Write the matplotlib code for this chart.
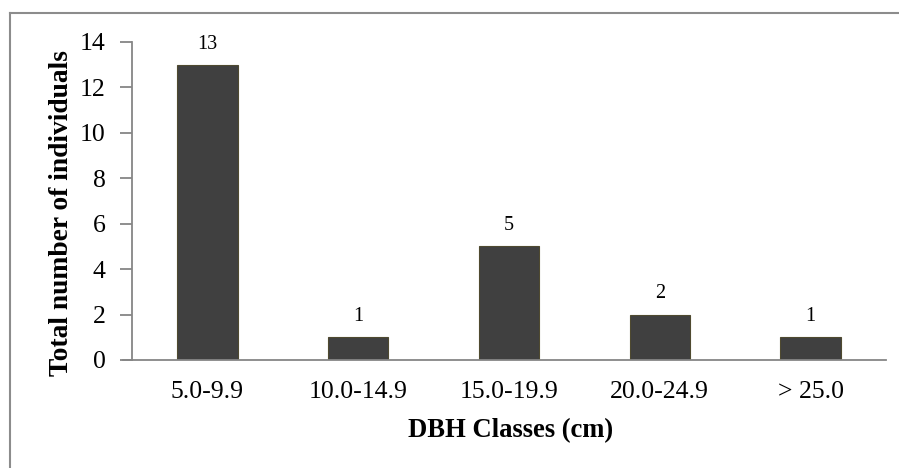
import numpy as np
import matplotlib; matplotlib.use('Agg'); import matplotlib.pyplot as plt
from matplotlib.lines import Line2D

# DBH class distribution
classes = ['5.0-9.9', '10.0-14.9', '15.0-19.9', '20.0-24.9', '> 25.0']
counts = [13, 1, 5, 2, 1]
yticks = [0, 2, 4, 6, 8, 10, 12, 14]

plt.rcParams['font.family'] = ['Liberation Serif', 'DejaVu Serif']
AX_COL = '#868686'

fig = plt.figure(figsize=(8.99, 4.68), dpi=100)
ax = fig.add_axes([0.1468, 0.2308, 0.8387, 0.6795])

x = np.arange(len(classes))
ax.bar(x, counts, width=0.40, color='#404040', edgecolor='#4f4a30', linewidth=0.8)
for xi, v in zip(x, counts):
    ax.annotate(str(v), (xi, v), xytext=(0, 8), textcoords='offset points',
                ha='center', va='bottom', fontsize=14.5)

ax.set_xlim(-0.5, len(classes) - 0.5)
ax.set_ylim(0, 14)
ax.set_yticks(yticks)
ax.set_xticks(x)
ax.set_xticklabels(classes, fontsize=18.5)
ax.tick_params(axis='y', labelsize=18.5, length=9, width=1.3, color=AX_COL, pad=10)
ax.tick_params(axis='x', length=0, pad=15)

for s in ['top', 'right']:
    ax.spines[s].set_visible(False)
for s in ['left', 'bottom']:
    ax.spines[s].set_color(AX_COL)
    ax.spines[s].set_linewidth(1.3)
# extend baseline to the left like the 0 tick
ax.plot([-0.56, -0.5], [0, 0], color=AX_COL, lw=1.3, clip_on=False)

ax.set_xlabel('DBH Classes (cm)', fontsize=19.2, fontweight='bold')
ax.set_ylabel('Total number of individuals', fontsize=19.8, fontweight='bold')
ax.xaxis.set_label_coords(0.502, -0.182)
ax.yaxis.set_label_coords(-0.077, 0.462)

# outer frame (top and left edges visible)
W, H = 899, 468
fig.add_artist(Line2D([10 / W, 1], [1 - 13 / H, 1 - 13 / H], color='#8c8c8c', lw=1.5))
fig.add_artist(Line2D([10 / W, 10 / W], [0, 1 - 13 / H], color='#8c8c8c', lw=1.5))

fig.savefig('out.png', dpi=100)
